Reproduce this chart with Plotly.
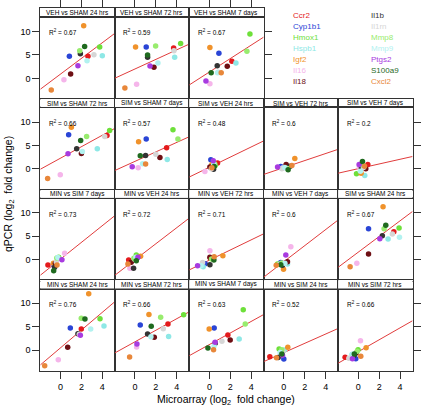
import numpy as np
import plotly.graph_objects as go

# ---------------- data ----------------
genes = ["Ccr2", "Cyp1b1", "Hmox1", "Hspb1", "Igf2", "Il16", "Il18",
         "Il1b", "Il1rn", "Mmp8", "Mmp9", "Ptgs2", "S100a9", "Cxcl2"]
gene_colors = ["#E41A1C", "#2A45D6", "#6EE03A", "#8EE8E6", "#F0922B", "#F5B5EA", "#6E0F14",
               "#333333", "#D6D6D6", "#98EC6E", "#B2F2F0", "#A83BE0", "#1F6A1F", "#E8873A"]

panel_titles = ["VEH vs SHAM 24 hrs", "VEH vs SHAM 72 hrs", "VEH vs SHAM 7 days",
                "SIM vs SHAM 72 hrs", "SIM vs SHAM 7 days", "SIM vs VEH 24 hrs",
                "SIM vs VEH 72 hrs", "SIM vs VEH 7 days", "MIN vs SIM 7 days",
                "MIN vs VEH 24 hrs", "MIN vs VEH 72 hrs", "MIN vs VEH 7 days",
                "SIM vs SHAM 24 hrs", "MIN vs SHAM 24 hrs", "MIN vs SHAM 72 hrs",
                "MIN vs SHAM 7 days", "MIN vs SIM 24 hrs", "MIN vs SIM 72 hrs"]
r2_values = ["0.67", "0.59", "0.67", "0.66", "0.57", "0.48", "0.6", "0.2", "0.73",
             "0.72", "0.71", "0.6", "0.67", "0.76", "0.66", "0.63", "0.52", "0.66"]
fit_slope = [1.67, 1.02, 1.43, 1.22, 1.01, 1.08, 0.75, 0.50, 1.78,
             1.71, 1.08, 1.71, 1.67, 1.89, 1.23, 1.23, 0.99, 1.27]
fit_intercept = [0.91, 2.00, 1.36, 2.30, 1.62, 0.37, 0.29, 0.07, 0.10,
                 -0.05, -0.12, -0.45, 1.58, 0.50, 1.78, 1.20, -0.52, -0.32]

# microarray (x) and qPCR (y) log2 fold changes, gene order as in `genes`
veh_sham_24h_x = [2.63, 0.85, 3.75, 4.00, 2.22, 0.33, 0.97, 1.90, 3.20, 1.84, 2.54, 1.67, 2.31, -0.88]
veh_sham_24h_y = [4.70, 4.70, 6.70, 4.80, 11.2, -0.27, 0.94, 5.26, 5.05, 5.90, 3.77, 2.70, 6.80, -2.47]
veh_sham_72h_x = [3.70, 1.08, 4.37, 3.80, 0.06, 0.16, 1.82, 1.21, 3.73, 1.98, 2.20, 1.44, 1.21, -0.96]
veh_sham_72h_y = [6.47, 6.70, 7.40, 4.49, 6.68, -1.26, 2.36, 4.49, 5.90, 6.90, 3.28, 2.64, 4.98, -2.04]
veh_sham_7d_x = [2.15, 0.91, 3.88, 2.54, 0.05, 0.05, 1.71, 0.75, 0.85, 3.59, 0.78, -0.33, 0.17, 1.13]
veh_sham_7d_y = [3.63, 5.33, 9.45, 3.28, 6.60, -1.12, 2.57, 2.70, 1.30, 5.76, 1.21, -0.55, 1.21, 1.21]
sim_sham_72h_x = [4.45, 0.78, 4.70, 3.52, 1.04, -0.02, 2.00, 1.55, 4.23, 2.50, 2.09, 0.72, 1.93, -1.23]
sim_sham_72h_y = [7.13, 7.28, 8.20, 4.30, 8.90, -1.23, 3.30, 4.30, 6.90, 6.90, 3.73, 3.23, 6.07, -2.02]
sim_sham_7d_x = [3.03, 1.08, 3.64, 3.09, 0.35, 0.31, 2.39, 1.02, 2.00, 4.11, 0.73, -0.26, 0.51, 1.02]
sim_sham_7d_y = [4.51, 6.36, 8.34, 2.02, 5.79, 0.26, 2.45, 2.88, 3.16, 6.36, 1.10, 0.47, 2.81, 1.04]
sim_veh_24h_x = [0.78, 0.14, 0.56, 0.30, 0.24, -0.43, 0.05, 0.40, 0.18, 0.50, 0.43, 0.37, 0.46, 0.24]
sim_veh_24h_y = [1.25, 1.96, 0.75, 0.75, 0.96, -0.52, 0.40, -0.03, 0.05, 1.10, 1.00, 1.75, 0.54, 0.26]
sim_veh_72h_x = [0.25, -0.29, 0.47, -0.10, 1.05, -0.15, 0.22, 0.60, -0.19, 0.35, 0.10, -0.60, 0.41, 0.77]
sim_veh_72h_y = [0.70, 0.54, 0.40, 0.20, 2.24, 0.18, 0.97, 0.60, 0.04, 0.10, 0.30, 0.40, -0.17, 0.75]
sim_veh_7d_x = [0.91, 0.15, -0.17, 0.62, 0.27, 0.10, 0.72, 0.30, 0.50, 0.45, 0.20, 0.08, 0.40, 0.60]
sim_veh_7d_y = [0.96, 0.70, -1.02, -1.38, -0.88, 0.50, 0.04, 0.25, 0.30, 0.80, -0.50, 0.96, 1.60, 0.60]
min_sim_7d_x = [-1.20, -0.60, -0.17, -0.30, -0.68, 0.40, -0.49, -0.56, -0.40, -0.35, -0.25, 0.14, -0.65, -0.33]
min_sim_7d_y = [-1.15, -1.30, 0.49, 0.30, -0.79, 1.34, -0.79, -1.65, -0.50, 0.35, 0.45, -0.01, -2.36, -1.15]
min_veh_24h_x = [-0.60, 0.20, 0.13, 0.00, 0.54, -0.48, -0.36, -0.13, 0.00, -0.10, 0.10, 0.29, 0.13, -0.67]
min_veh_24h_y = [-0.09, 0.30, 0.98, 0.20, 0.70, -1.85, -0.55, -1.85, 0.00, 0.30, 0.50, 0.49, -0.23, -0.94]
min_veh_72h_x = [0.10, -0.40, 0.30, -0.59, 1.29, 0.05, 0.05, 0.05, -0.65, 0.20, -0.80, -1.13, 0.43, 0.46]
min_veh_72h_y = [0.30, -0.90, 0.30, -1.50, 0.84, 1.90, 0.49, -1.08, -0.60, 0.10, -1.30, -1.29, -0.09, 0.63]
min_veh_7d_x = [0.20, -0.30, -0.60, 0.35, -0.03, 0.67, 0.35, -0.13, -0.40, -0.20, 0.10, 0.19, -0.29, -0.73]
min_veh_7d_y = [-0.60, -0.60, -0.94, -0.94, -2.07, 2.75, -0.44, -1.22, -1.00, -0.70, -0.80, 0.98, -1.08, -1.22]
sim_sham_24h_x = [3.40, 0.98, 3.90, 2.85, 2.37, -0.14, 0.98, 2.30, 3.26, 2.47, 3.94, 2.06, 2.63, -0.78]
sim_sham_24h_y = [5.94, 6.57, 6.72, 4.38, 11.26, -0.79, 1.19, 5.09, 5.45, 6.57, 4.73, 4.45, 7.30, -1.50]
min_sham_24h_x = [1.99, 0.94, 3.78, 4.16, 2.70, -0.21, 0.69, 1.67, 1.80, 1.99, 2.89, 1.90, 2.34, -1.51]
min_sham_24h_y = [4.51, 4.72, 6.70, 5.15, 12.0, -2.02, 0.62, 3.51, 3.40, 6.79, 4.51, 3.17, 6.64, -3.30]
min_sham_72h_x = [3.16, 0.51, 4.66, 3.22, 1.34, 0.16, 1.85, 1.21, 2.71, 2.46, 1.53, 0.19, 1.56, -0.51]
min_sham_72h_y = [5.57, 5.36, 7.55, 2.90, 7.60, 0.68, 2.74, 3.45, 4.57, 7.00, 2.88, 1.32, 5.09, -1.45]
min_sham_7d_x = [1.77, 0.46, 3.24, 2.85, -0.02, 0.50, 1.99, 0.56, 1.20, 3.43, 0.45, 0.55, -0.14, 0.40]
min_sham_7d_y = [3.23, 4.72, 8.62, 2.38, 4.51, 1.60, 2.17, 1.46, 1.89, 5.57, 0.90, 1.70, 0.47, 0.11]
min_sim_24h_x = [-1.34, 0.00, -0.45, 0.05, 0.38, -0.30, -0.30, -0.54, -0.10, -0.20, -0.35, -0.13, -0.19, -0.70]
min_sim_24h_y = [-1.38, -1.87, 0.26, 0.04, 0.62, -0.60, -1.00, -1.55, -0.20, 0.10, -0.50, -1.10, -0.81, -1.60]
min_sim_72h_x = [-1.26, -0.24, -0.02, -0.60, 0.75, 0.21, -0.20, -0.40, -0.90, -0.10, -0.50, -0.56, -0.38, 0.24]
min_sim_72h_y = [-1.52, -1.80, 0.11, -0.90, 0.54, 2.03, -0.60, -1.10, -1.70, -0.20, -0.80, -1.80, -0.81, -1.31]

panel_x = [veh_sham_24h_x, veh_sham_72h_x, veh_sham_7d_x, sim_sham_72h_x, sim_sham_7d_x,
           sim_veh_24h_x, sim_veh_72h_x, sim_veh_7d_x, min_sim_7d_x, min_veh_24h_x,
           min_veh_72h_x, min_veh_7d_x, sim_sham_24h_x, min_sham_24h_x, min_sham_72h_x,
           min_sham_7d_x, min_sim_24h_x, min_sim_72h_x]
panel_y = [veh_sham_24h_y, veh_sham_72h_y, veh_sham_7d_y, sim_sham_72h_y, sim_sham_7d_y,
           sim_veh_24h_y, sim_veh_72h_y, sim_veh_7d_y, min_sim_7d_y, min_veh_24h_y,
           min_veh_72h_y, min_veh_7d_y, sim_sham_24h_y, min_sham_24h_y, min_sham_72h_y,
           min_sham_7d_y, min_sim_24h_y, min_sim_72h_y]

x_ticks = [-2, 0, 2, 4]
y_ticks = [0, 5, 10]

# ---------------- layout geometry ----------------
W, H = 421, 410
FONT = "Liberation Sans, Arial, Helvetica, sans-serif"
X_RANGE = [-1.93, 5.19]
Y_RANGE = [-4.45, 13.13]
LINE_C = "#333333"

def px(v):
    return v / W

def py(v):
    return 1 - v / H

grid = [(0, 0), (0, 1), (0, 2)] + [(r, c) for r in (1, 2, 3) for c in range(5)]

fig = go.Figure()
layout = dict(width=W, height=H, margin=dict(l=0, r=0, t=0, b=0),
              paper_bgcolor="white", plot_bgcolor="white", showlegend=False,
              font=dict(family=FONT, color="black"))
annotations = []
N = len(grid)

for i, (r, c) in enumerate(grid):
    n = i + 1
    s = N + n
    left = 40.3 + 74.45 * c
    right = left + 74.45
    strip_top = 8.3 + 90.6 * r
    strip_bot = strip_top + 8.4
    pan_bot = strip_bot + 82.6
    rightmost = (c == 2) if r == 0 else (c == 4)

    ax_common = dict(showline=True, mirror=True, linecolor=LINE_C, linewidth=1,
                     showgrid=False, zeroline=False, ticklen=7, tickwidth=1,
                     tickcolor=LINE_C, tickfont=dict(size=9, family=FONT, color="black"))
    layout[f"xaxis{n}"] = dict(ax_common, domain=[px(left), px(right)], range=X_RANGE,
                               anchor=f"y{n}", tickvals=x_ticks,
                               ticks="outside" if r == 3 else "", showticklabels=(r == 3))
    if c == 0:
        ya = dict(side="left", ticks="outside", showticklabels=True)
    elif rightmost:
        ya = dict(side="right", ticks="outside", showticklabels=False)
    else:
        ya = dict(ticks="", showticklabels=False)
    layout[f"yaxis{n}"] = dict(ax_common, domain=[py(pan_bot), py(strip_bot)], range=Y_RANGE,
                               anchor=f"x{n}", tickvals=y_ticks, **ya)
    # strip axes
    layout[f"xaxis{s}"] = dict(ax_common, domain=[px(left), px(right)], range=X_RANGE,
                               anchor=f"y{s}", side="top", tickvals=x_ticks,
                               ticks="outside" if r == 0 else "", showticklabels=False)
    layout[f"yaxis{s}"] = dict(ax_common, domain=[py(strip_bot), py(strip_top)], range=[0, 1],
                               anchor=f"x{s}", ticks="", showticklabels=False)
    fig.add_trace(go.Scatter(x=[], y=[], xaxis=f"x{s}", yaxis=f"y{s}", hoverinfo="skip"))

    # regression line
    lx = np.array(X_RANGE)
    ly = fit_intercept[i] + fit_slope[i] * lx
    fig.add_trace(go.Scatter(x=lx, y=ly, mode="lines", xaxis=f"x{n}", yaxis=f"y{n}",
                             line=dict(color="#E03C3C", width=1), hoverinfo="skip"))
    # points
    fig.add_trace(go.Scatter(x=panel_x[i], y=panel_y[i], mode="markers", text=genes,
                             xaxis=f"x{n}", yaxis=f"y{n}",
                             marker=dict(color=gene_colors, size=5.5, line=dict(width=0))))

    annotations.append(dict(text=panel_titles[i], xref=f"x{s} domain", yref=f"y{s} domain",
                            x=0.5, y=0.5, showarrow=False, font=dict(size=6.5, family=FONT)))
    annotations.append(dict(text=f"R<sup>2</sup> = {r2_values[i]}", xref=f"x{n}", yref=f"y{n}",
                            x=-1.3, y=9.8, xanchor="left", yanchor="middle", showarrow=False,
                            font=dict(size=6.5, family=FONT)))

# legend as coloured text
for j, g in enumerate(genes):
    col, row = divmod(j, 7)
    annotations.append(dict(text=g, xref="paper", yref="paper",
                            x=px(291 + 78 * col), y=py(15 + 11.1 * row),
                            xanchor="left", yanchor="middle", showarrow=False,
                            font=dict(size=8, family=FONT, color=gene_colors[j])))

annotations.append(dict(text="Microarray (log<sub>2</sub>  fold change)", xref="paper", yref="paper",
                        x=px(226), y=py(400), xanchor="center", yanchor="middle", showarrow=False,
                        font=dict(size=10.5, family=FONT)))
annotations.append(dict(text="qPCR (log<sub>2</sub>  fold change)", xref="paper", yref="paper",
                        x=px(9), y=py(194), xanchor="center", yanchor="middle", showarrow=False,
                        textangle=-90, font=dict(size=10.5, family=FONT)))

layout["annotations"] = annotations
fig.update_layout(**layout)
fig.write_html("out.html", config={"displayModeBar": False},
               post_script="document.body.style.margin='0px';document.body.style.overflow='hidden';")
